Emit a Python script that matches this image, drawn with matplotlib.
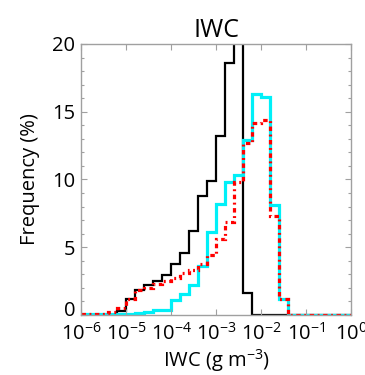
import numpy as np
import matplotlib
matplotlib.use("Agg")
import matplotlib.pyplot as plt
from matplotlib.transforms import ScaledTranslation

plt.rcParams['font.family'] = ['Open Sans', 'DejaVu Sans']
plt.rcParams['mathtext.fontset'] = 'custom'
plt.rcParams['mathtext.rm'] = 'Open Sans'
plt.rcParams['mathtext.it'] = 'Open Sans'

# bin edges in log10(IWC), 0.2 decade bins
log_edges = [-6.0, -5.8, -5.6, -5.4, -5.2, -5.0, -4.8, -4.6, -4.4, -4.2,
             -4.0, -3.8, -3.6, -3.4, -3.2, -3.0, -2.8, -2.6, -2.4, -2.2,
             -2.0, -1.8, -1.6, -1.4, -1.2, -1.0, -0.8, -0.6, -0.4, -0.2, 0.0]

# frequency (%) per bin
freq_black = [0, 0, 0, 0, 0.32, 1.2, 1.85, 2.2, 2.5, 2.95,
              3.76, 4.6, 6.2, 8.8, 9.9, 13.2, 18.6, 21.9, 1.6, 0,
              0, 0, 0, 0, 0, 0, 0, 0, 0, 0]
freq_cyan = [0.05, 0.05, 0.05, 0.05, 0.07, 0.1, 0.15, 0.2, 0.35, 0.4,
             1.1, 1.55, 2.2, 3.6, 6.1, 8.2, 9.8, 10.3, 12.9, 16.3,
             16.1, 8.1, 1.2, 0, 0, 0, 0, 0, 0, 0]
freq_red = [0.05, 0.05, 0.05, 0.25, 0.5, 1.2, 1.85, 2.0, 2.3, 2.5,
            2.7, 3.1, 3.3, 3.8, 4.4, 5.6, 6.9, 9.8, 12.7, 14.2,
            14.4, 7.3, 1.2, 0, 0, 0, 0, 0, 0, 0]

xtick_exp = [-6, -5, -4, -3, -2, -1, 0]
ytick_vals = [0, 5, 10, 15, 20]

edges = 10.0 ** np.array(log_edges)

fig = plt.figure(figsize=(3.65, 3.75), dpi=100)
ax = fig.add_axes([0.222, 0.16, 0.74, 0.7227])

ax.stairs(freq_black, edges, baseline=None, color='black', lw=1.6)
ax.stairs(freq_cyan, edges, baseline=None, color='#00f0f8', lw=2.3)
ax.stairs(freq_red, edges, baseline=None, color='#ff0000', lw=2.3,
          linestyle=(0, (1.4, 1.1, 0.6, 1.1)))

ax.set_xscale('log')
ax.set_xlim(1e-6, 1)
ax.set_ylim(0, 20)

ax.set_xticks([10.0 ** e for e in xtick_exp])
ax.set_xticklabels([r'$10^{%d}$' % e for e in xtick_exp])
ax.xaxis.set_minor_locator(matplotlib.ticker.NullLocator())
ax.set_yticks(ytick_vals)
ax.set_yticks(np.arange(0, 21, 1), minor=True)

for s in ax.spines.values():
    s.set_color('#a0a0a0')
    s.set_linewidth(1.0)
ax.tick_params(which='both', direction='in', top=True, right=True,
               color='#a0a0a0', labelsize=14.5)
ax.tick_params(axis='x', pad=6)
ax.tick_params(axis='y', pad=4)
ax.tick_params(which='major', length=4.5, width=0.8)
ax.tick_params(which='minor', length=2.5, width=0.8)

ax.set_title('IWC', fontsize=18, pad=5)
ax.set_ylabel('Frequency (%)', fontsize=14.5, labelpad=9)
ax.set_xlabel(r'IWC (g m$^{-3}$)', fontsize=14.5, labelpad=1.5)

# the zero label sits a bit above its tick in the original
zero_lab = ax.yaxis.get_major_ticks()[0].label1
zero_lab.set_transform(zero_lab.get_transform() +
                       ScaledTranslation(0, 6 / 100, fig.dpi_scale_trans))

fig.savefig('out.png', dpi=100)
